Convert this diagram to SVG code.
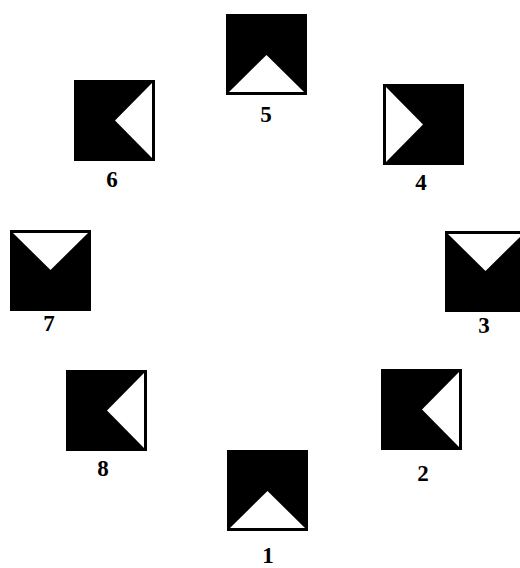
<svg xmlns="http://www.w3.org/2000/svg" width="520" height="568" viewBox="0 0 520 568">
<style>
.sq{fill:#000}
.tri{fill:#fff}
.lbl{font-family:"Liberation Serif",serif;font-weight:bold;font-size:23px;text-anchor:middle;fill:#000}
</style>
<rect width="520" height="568" fill="#fff"/>
<g id="node5">
<rect class="sq" x="226" y="14" width="81" height="81"/>
<polygon class="tri" points="229,92 304,92 266.5,55"/>
<text class="lbl" x="266" y="122">5</text>
</g>
<g id="node6">
<rect class="sq" x="74" y="80" width="81" height="81"/>
<polygon class="tri" points="152,83 152,158 115,120.5"/>
<text class="lbl" x="112" y="187">6</text>
</g>
<g id="node4">
<rect class="sq" x="383" y="84" width="81" height="81"/>
<polygon class="tri" points="386,87 386,162 423,124.5"/>
<text class="lbl" x="421" y="190">4</text>
</g>
<g id="node7">
<rect class="sq" x="10" y="230" width="81" height="81"/>
<polygon class="tri" points="13,233 88,233 50.5,270"/>
<text class="lbl" x="49" y="331">7</text>
</g>
<g id="node3">
<rect class="sq" x="445" y="231" width="81" height="81"/>
<polygon class="tri" points="448,234 523,234 485.5,271"/>
<text class="lbl" x="484" y="333">3</text>
</g>
<g id="node8">
<rect class="sq" x="66" y="370" width="81" height="81"/>
<polygon class="tri" points="144,373 144,448 107,410.5"/>
<text class="lbl" x="103" y="476">8</text>
</g>
<g id="node2">
<rect class="sq" x="381" y="369" width="81" height="81"/>
<polygon class="tri" points="459,372 459,447 422,409.5"/>
<text class="lbl" x="423" y="481">2</text>
</g>
<g id="node1">
<rect class="sq" x="227" y="450" width="81" height="81"/>
<polygon class="tri" points="230,528 305,528 267.5,491"/>
<text class="lbl" x="268" y="563">1</text>
</g>
<g id="connectors"></g>
</svg>
